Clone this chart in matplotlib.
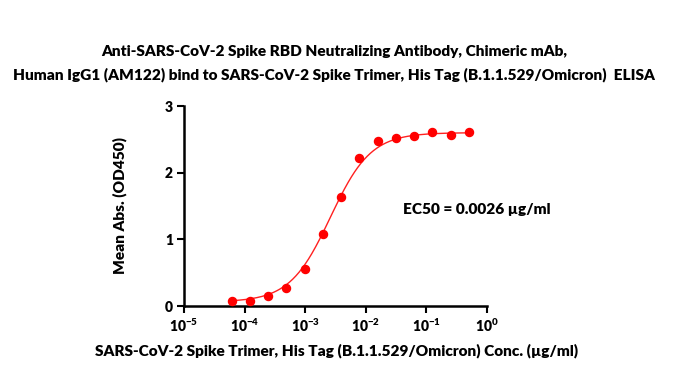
import numpy as np
import matplotlib
matplotlib.use("Agg")
import matplotlib.pyplot as plt
from matplotlib.ticker import NullLocator, FixedLocator

# data
conc = [6.1e-5, 1.22e-4, 2.44e-4, 4.88e-4, 9.77e-4, 1.95e-3, 3.9e-3,
        7.8e-3, 0.0156, 0.03125, 0.0625, 0.125, 0.25, 0.5]
od450 = [0.07, 0.07, 0.145, 0.275, 0.555, 1.075, 1.635,
         2.22, 2.47, 2.52, 2.555, 2.615, 2.57, 2.61]

# 4PL fit parameters (EC50 from the label)
bottom, top, ec50, hill = 0.06, 2.60, 0.0026, 1.3

title1 = "Anti-SARS-CoV-2 Spike RBD Neutralizing Antibody, Chimeric mAb,"
title2 = "Human IgG1 (AM122) bind to SARS-CoV-2 Spike Trimer, His Tag (B.1.1.529/Omicron)  ELISA"
xlab = "SARS-CoV-2 Spike Trimer, His Tag (B.1.1.529/Omicron) Conc. (\u00b5g/ml)"
ylab = "Mean Abs. (OD450)"
ec50_label = "EC50 = 0.0026 \u00b5g/ml"

W = 'heavy'
plt.rcParams['font.family'] = ['Lato', 'DejaVu Sans']
plt.rcParams['font.weight'] = W
plt.rcParams['mathtext.fontset'] = 'custom'
plt.rcParams['mathtext.rm'] = 'Lato:heavy'
plt.rcParams['mathtext.bf'] = 'Lato:heavy'

fig = plt.figure(figsize=(6.75, 3.8), dpi=100)
ax = fig.add_axes([184/675, 74/380, 303/675, 200/380])

xs = np.logspace(np.log10(conc[0]), np.log10(conc[-1]), 300)
ys = bottom + (top - bottom) / (1 + (ec50 / xs) ** hill)
ax.plot(xs, ys, color='#ff2020', lw=1.0, zorder=2)
ax.plot(conc, od450, 'o', color='#ff0000', ms=5.8, mec='#ff0000', zorder=3)

ax.set_xscale('log')
ax.set_xlim(1e-5, 1)
ax.set_ylim(0, 3)
ax.xaxis.set_major_locator(FixedLocator([1e-5, 1e-4, 1e-3, 1e-2, 1e-1, 1]))
ax.xaxis.set_minor_locator(NullLocator())
ax.set_xticklabels([r"$10^{%d}$" % e for e in range(-5, 1)])
ax.set_yticks([0, 1, 2, 3])

for s in ['top', 'right']:
    ax.spines[s].set_visible(False)
for s in ['left', 'bottom']:
    ax.spines[s].set_linewidth(1.8)
ax.tick_params(width=1.5, length=5, labelsize=10, pad=3)
for lab in ax.get_xticklabels() + ax.get_yticklabels():
    lab.set_fontweight(W)

fig.text(334/675, 1 - 52/380, title1, ha='center', va='center', fontsize=11.1, fontweight=W)
fig.text(334/675, 1 - 75/380, title2, ha='center', va='center', fontsize=11.1, fontweight=W)
fig.text(337/675, 1 - 351/380, xlab, ha='center', va='center', fontsize=11.1, fontweight=W)
fig.text(120/675, 1 - 206/380, ylab, ha='center', va='center', rotation=90, fontsize=11.1, fontweight=W)
ax.text(0.041, 1.44, ec50_label, ha='left', va='center', fontsize=11.1, fontweight=W)

fig.savefig("out.png", dpi=100)
